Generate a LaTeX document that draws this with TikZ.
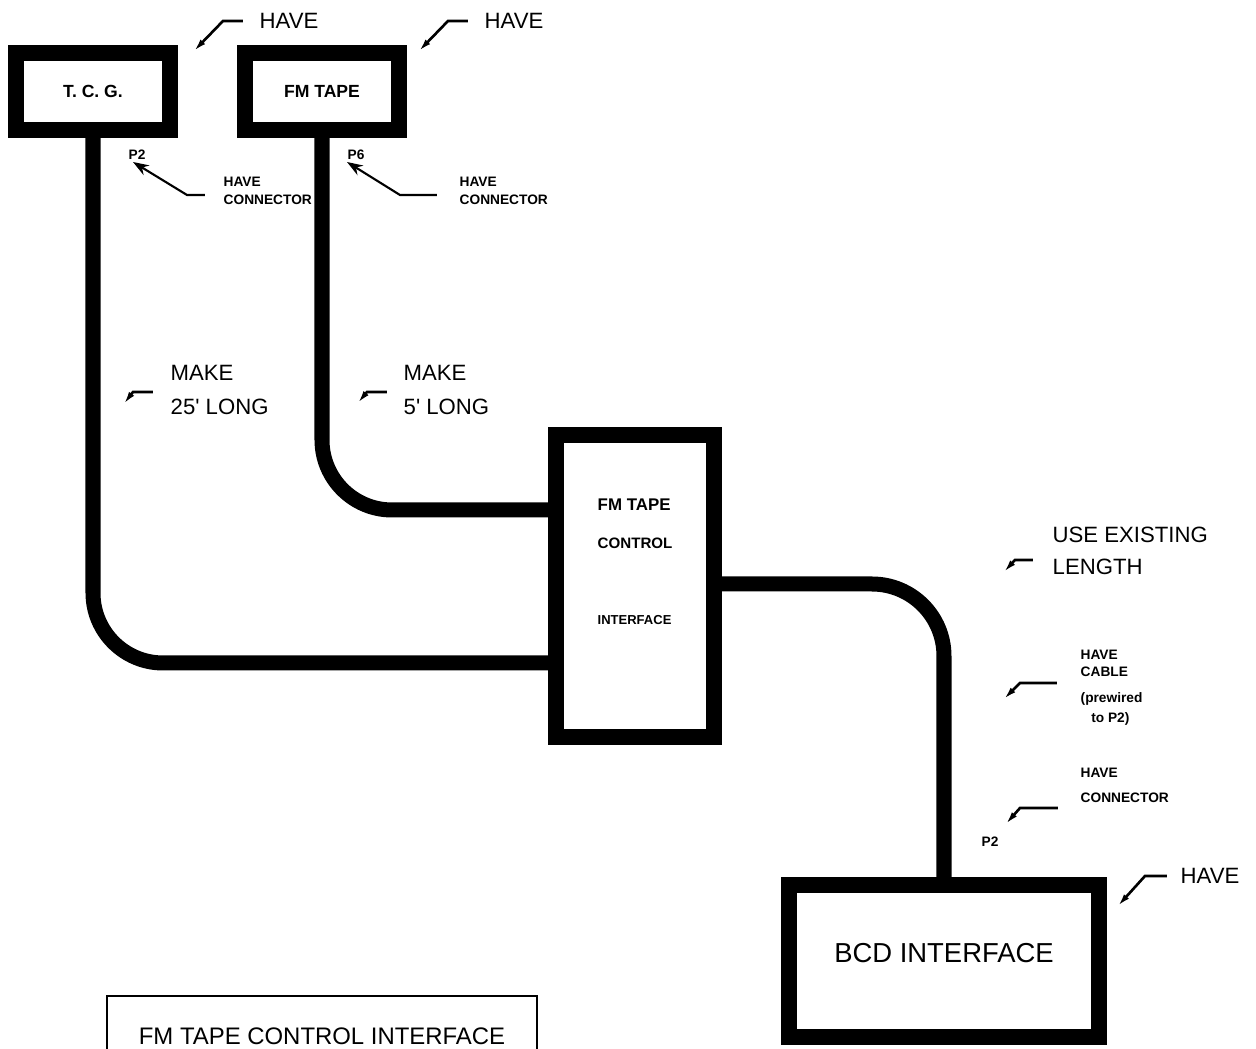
\documentclass[tikz,border=0pt]{standalone}
\usepackage{fontspec}
\setmainfont{Liberation Sans}
\usetikzlibrary{arrows.meta,positioning,calc}
\tikzset{
  unit/.style={draw,line width=0.16cm,inner sep=0pt,font=\bfseries\fontsize{5}{6}\selectfont},
  cable/.style={line width=0.15cm,rounded corners=0.7cm},
  big/.style={inner sep=0pt,align=left,font=\fontsize{6.3}{9.8}\selectfont},
  tiny/.style={inner sep=0pt,align=left,font=\bfseries\fontsize{3.9}{5.1}\selectfont},
  ptr/.style={line width=0.75pt,-{Latex[length=4pt,width=1.8pt]}},
  ptrv/.style={line width=0.6pt,-{Stealth[length=4.5pt,width=3.2pt,inset=1.5pt]}},
}
\begin{document}
\begin{tikzpicture}[x=0.01cm,y=-0.01cm]
  \useasboundingbox (0,0) rectangle (1256,1049);
  % units
  \node[unit,minimum width=1.53cm,minimum height=0.77cm] (tcg) at (93,91.5) {T.\ C.\ G.};
  \node[unit,minimum width=1.54cm,minimum height=0.77cm] (fmtape) at (322,91.5) {FM TAPE};
  \node[unit,minimum width=1.58cm,minimum height=3.02cm] (ctrl) at (635,586) {};
  \node[tiny,anchor=west,font=\bfseries\fontsize{4.8}{5}\selectfont] (ctrlA) at (597,505) {FM TAPE};
  \node[tiny,anchor=west,font=\bfseries\fontsize{4.3}{5}\selectfont] (ctrlB) at (597,543) {CONTROL};
  \node[tiny,anchor=west,font=\bfseries\fontsize{3.7}{5}\selectfont] (ctrlC) at (597,620) {INTERFACE};
  \node[unit,minimum width=3.09cm,minimum height=1.52cm,text depth=4.5pt,
        font=\fontsize{7.8}{9}\selectfont] (bcd) at (944,961) {BCD INTERFACE};
  \node[draw,line width=0.5pt,minimum width=4.3cm,minimum height=0.8cm,anchor=north,
        font=\fontsize{6.8}{8}\selectfont] (title) at (322,995) {FM TAPE CONTROL INTERFACE};

  % cables
  \coordinate (y1) at (0,663);
  \coordinate (y2) at (0,510);
  \coordinate (y3) at (0,584);
  \draw[cable] (tcg.south) |- (ctrl.west |- y1);
  \draw[cable] (fmtape.south) |- (ctrl.west |- y2);
  \draw[cable,rounded corners=0.72cm] (ctrl.east |- y3) -| (bcd.north);

  % notes, top
  \node[big,anchor=west] (have1) at (259,21) {HAVE};
  \draw[ptr] ([xshift=-0.16cm]have1.west) -- ++(-20,0) -- ++(-30,31);
  \node[big,anchor=west] (have2) at (484,21) {HAVE};
  \draw[ptr] ([xshift=-0.16cm]have2.west) -- ++(-20,0) -- ++(-30,31);

  \node[tiny] (p2a) at (137,155) {P2};
  \node[tiny] (p6) at (356,155) {P6};
  \node[tiny,anchor=west] (hc1) at (223,191) {HAVE\\CONNECTOR};
  \node[tiny,anchor=west] (hc2) at (459,191) {HAVE\\CONNECTOR};
  \coordinate (p2tip) at (133,162);
  \coordinate (p6tip) at (347,162);
  \draw[ptrv] ([shift={(-0.18cm,-0.04cm)}]hc1.west) -- ++(-18,0) -- (p2tip);
  \draw[ptrv] ([shift={(-0.22cm,-0.04cm)}]hc2.west) -- ++(-37,0) -- (p6tip);

  % notes, cables
  \node[big,anchor=west] (mk1) at (170,390) {MAKE\\25\textquotesingle\ LONG};
  \draw[ptr] ([shift={(-0.17cm,-0.02cm)}]mk1.west) -- ++(-20,0) -- ++(-10,13);
  \node[big,anchor=west] (mk2) at (403,390) {MAKE\\5\textquotesingle\ LONG};
  \draw[ptr] ([shift={(-0.16cm,-0.02cm)}]mk2.west) -- ++(-20,0) -- ++(-10,12);
  \node[big,anchor=west,font=\fontsize{6.3}{9}\selectfont] (use) at (1052,551) {USE EXISTING\\LENGTH};
  \draw[ptr] ([shift={(-0.19cm,-0.09cm)}]use.west) -- ++(-18,0) -- ++(-12,13);

  % notes, right
  \node[tiny,anchor=west,font=\bfseries\fontsize{3.9}{4.6}\selectfont] (hcab) at (1080,688)
    {HAVE\\CABLE\\[3pt](prewired\\[1pt]\hspace{3pt}to P2)};
  \draw[ptr] ([shift={(-0.23cm,0.05cm)}]hcab.west) -- ++(-37,0) -- ++(-17,17);
  \node[tiny,anchor=west,font=\bfseries\fontsize{3.9}{4.6}\selectfont] (hcon) at (1080,785)
    {HAVE\\[2.5pt]CONNECTOR};
  \draw[ptr] ([shift={(-0.22cm,-0.23cm)}]hcon.west) -- ++(-38,0) -- ++(-15,17);
  \node[tiny] (p2b) at (990,842) {P2};
  \node[big,anchor=west] (have3) at (1180,876) {HAVE};
  \draw[ptr] ([xshift=-0.13cm]have3.west) -- ++(-22,0) -- ++(-28,31);
\end{tikzpicture}
\end{document}
